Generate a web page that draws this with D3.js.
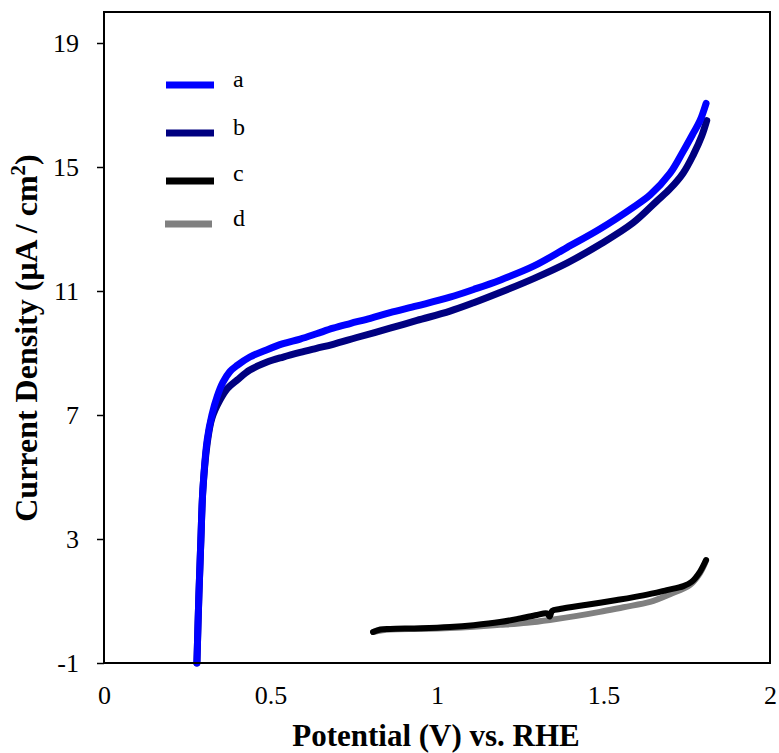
<!DOCTYPE html>
<html>
<head>
<meta charset="utf-8">
<script src="https://cdn.jsdelivr.net/npm/d3@7"></script>
<style>
  body { margin: 0; background: #fff; }
  svg text { font-family: "Liberation Serif", "Times New Roman", serif; }
</style>
</head>
<body>
<svg width="779" height="753"></svg>
<script>
// potential (V) / current density (uA/cm2)
const seriesA = [
  [0.279, -1], [0.285, 1.2], [0.291, 3], [0.297, 4.6], [0.310, 6.2], [0.324, 7.0],
  [0.340, 7.6], [0.357, 8.05], [0.378, 8.4], [0.400, 8.6], [0.438, 8.87],
  [0.488, 9.1], [0.538, 9.3], [0.589, 9.45], [0.638, 9.62], [0.688, 9.8],
  [0.739, 9.95], [0.800, 10.12], [0.859, 10.3], [0.940, 10.52], [1.039, 10.8],
  [1.110, 11.05], [1.189, 11.35], [1.290, 11.8], [1.390, 12.4], [1.489, 13.0],
  [1.589, 13.7], [1.640, 14.1], [1.700, 14.8], [1.739, 15.5], [1.770, 16.1],
  [1.790, 16.5], [1.808, 17.05]
];
const seriesB = [
  [0.279, -1], [0.285, 1.2], [0.291, 3], [0.297, 4.6], [0.310, 6.1], [0.324, 6.9],
  [0.348, 7.48], [0.370, 7.85], [0.400, 8.13], [0.438, 8.45], [0.488, 8.7],
  [0.538, 8.87], [0.589, 9.02], [0.638, 9.15], [0.688, 9.28], [0.759, 9.5],
  [0.859, 9.8], [0.940, 10.05], [1.039, 10.35], [1.110, 10.62], [1.189, 10.95],
  [1.290, 11.4], [1.390, 11.9], [1.489, 12.5], [1.589, 13.2], [1.660, 13.9],
  [1.700, 14.3], [1.739, 14.8], [1.770, 15.4], [1.795, 16.0], [1.810, 16.5]
];
const seriesC = [
  [0.808, 0.0], [0.830, 0.08], [0.859, 0.1], [0.950, 0.12], [1.039, 0.16],
  [1.110, 0.22], [1.189, 0.32], [1.250, 0.44], [1.300, 0.55], [1.330, 0.6],
  [1.338, 0.5], [1.346, 0.68], [1.369, 0.74], [1.450, 0.88], [1.540, 1.03],
  [1.620, 1.18], [1.690, 1.35], [1.740, 1.48], [1.765, 1.62], [1.790, 1.95],
  [1.808, 2.32]
];
const seriesD = [
  [0.808, 0.0], [0.859, 0.08], [0.950, 0.1], [1.039, 0.13], [1.110, 0.17],
  [1.189, 0.23], [1.270, 0.3], [1.339, 0.39], [1.420, 0.52], [1.489, 0.65],
  [1.560, 0.8], [1.640, 0.97], [1.700, 1.22], [1.760, 1.52], [1.790, 1.9],
  [1.808, 2.3]
];
const seriesNames = ['a', 'b', 'c', 'd'];
const seriesColors = ['#0000ff', '#000080', '#000000', '#808080'];
const xTicks = [0, 0.5, 1, 1.5, 2];
const yTicks = [-1, 3, 7, 11, 15, 19];

const svg = d3.select('svg');
const m = { left: 104, right: 770, top: 12, bottom: 663 };

const x = d3.scaleLinear().domain([0, 2]).range([m.left, m.right]);
const y = d3.scaleLinear().domain([-1, 20]).range([m.bottom, m.top]);

// axes
svg.append('g')
    .attr('transform', `translate(0,${m.bottom})`)
    .call(d3.axisBottom(x).tickValues(xTicks).tickSize(0)
        .tickFormat(d => d3.format('')(d)))
    .call(g => g.select('.domain').remove())
    .selectAll('text')
    .attr('dy', null).attr('y', 41)
    .attr('font-size', 26).attr('fill', '#000');

svg.append('g')
    .attr('transform', `translate(${m.left},0)`)
    .call(d3.axisLeft(y).tickValues(yTicks).tickSize(7).tickPadding(18)
        .tickFormat(d => d < 0 ? '-' + Math.abs(d) : d))
    .call(g => g.select('.domain').remove())
    .call(g => g.selectAll('line').attr('stroke', '#000').attr('stroke-width', 1.5))
    .selectAll('text')
    .attr('dy', '0.34em')
    .attr('font-size', 26).attr('fill', '#000');

// lines
const line = d3.line().x(d => x(d[0])).y(d => y(d[1])).curve(d3.curveCatmullRom);
const drawOrder = [
  { data: seriesD, i: 3 }, { data: seriesC, i: 2 },
  { data: seriesB, i: 1 }, { data: seriesA, i: 0 }
];
drawOrder.forEach(s => {
  svg.append('path')
      .datum(s.data)
      .attr('d', line)
      .attr('fill', 'none')
      .attr('stroke', seriesColors[s.i])
      .attr('stroke-width', s.i < 2 ? 7 : 6)
      .attr('stroke-linecap', 'round')
      .attr('stroke-linejoin', 'round');
});

// frame
svg.append('rect')
    .attr('x', m.left).attr('y', m.top)
    .attr('width', m.right - m.left).attr('height', m.bottom - m.top)
    .attr('fill', 'none').attr('stroke', '#000').attr('stroke-width', 2);

// legend
const legendY = [85, 133, 181, 224];
seriesNames.forEach((n, i) => {
  svg.append('line')
      .attr('x1', i === 3 ? 165 : 166).attr('x2', i === 3 ? 212 : 214)
      .attr('y1', legendY[i]).attr('y2', legendY[i])
      .attr('stroke', seriesColors[i]).attr('stroke-width', 7);
  svg.append('text')
      .attr('x', 233).attr('y', legendY[i] + (i === 2 ? 0 : 2))
      .attr('font-size', 24)
      .text(n);
});

// axis titles
svg.append('text')
    .attr('x', 436).attr('y', 746)
    .attr('text-anchor', 'middle')
    .attr('font-size', 31).attr('font-weight', 'bold')
    .text('Potential (V) vs. RHE');

const yt = svg.append('text')
    .attr('transform', 'translate(37,338) rotate(-90)')
    .attr('text-anchor', 'middle')
    .attr('font-size', 32).attr('font-weight', 'bold');
yt.append('tspan').text('Current Density (μA / cm');
yt.append('tspan').attr('dy', -12).attr('font-size', 21).text('2');
yt.append('tspan').attr('dy', 12).text(')');
</script>
</body>
</html>
